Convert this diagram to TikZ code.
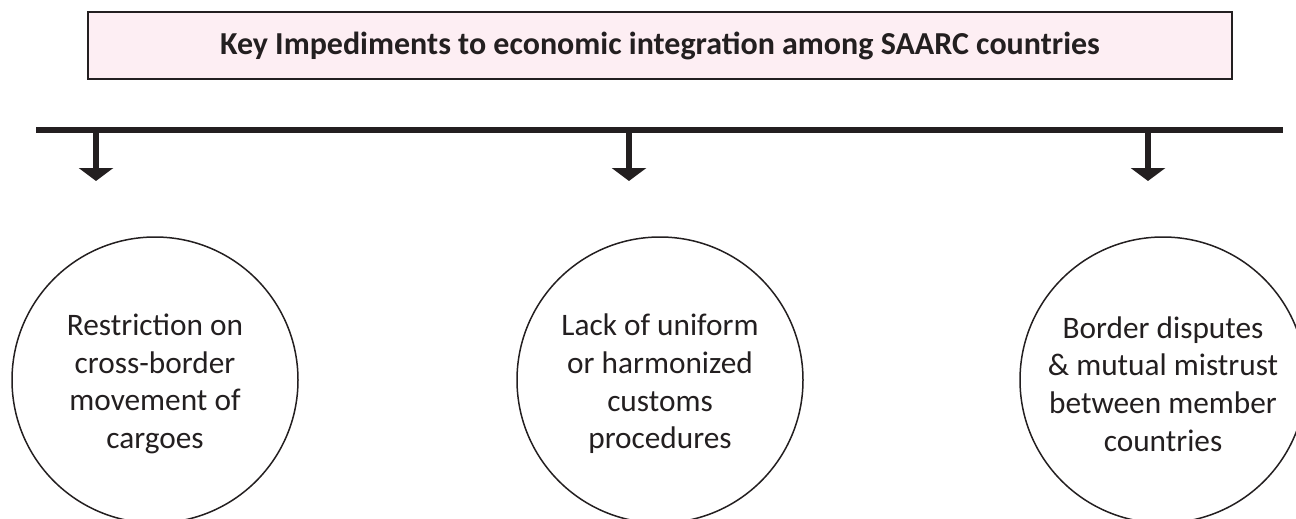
\documentclass[tikz,border=0pt]{standalone}
\usepackage{fontspec}
\setmainfont{Carlito}
\usetikzlibrary{arrows.meta}
\definecolor{ink}{HTML}{231F20}
\definecolor{pinkfill}{HTML}{FDEEF3}
\tikzset{
  titlebox/.style={draw=ink, line width=1.3pt, fill=pinkfill, minimum width=1144pt, minimum height=67pt, inner sep=0pt, text=ink, font=\fontsize{32}{38}\selectfont\bfseries},
  bubble/.style={circle, draw=ink, line width=1.5pt, minimum size=286pt, inner sep=0pt},
  bubbletext/.style={align=center, inner sep=0pt, text=ink, font=\fontsize{31.3}{37.7}\selectfont},
  bar/.style={draw=ink, line width=6pt},
  downarrow/.style={draw=ink, line width=6pt, -{Triangle[width=34pt,length=13pt]}}
}
\begin{document}
\begin{tikzpicture}[x=1pt,y=-1pt]
\useasboundingbox (0,0) rectangle (1296,519);
\node[titlebox] (title) at (660,45.5) {Key Impediments to economic integration among SAARC countries};
\coordinate (barL) at (36,130);
\coordinate (barR) at (1283,130);
\draw[bar] (barL) -- (barR);
\coordinate (a1s) at (96,130);
\coordinate (a1e) at (96,181);
\coordinate (a2s) at (629,130);
\coordinate (a2e) at (629,181);
\coordinate (a3s) at (1148,130);
\coordinate (a3e) at (1148,181);
\draw[downarrow] (a1s) -- (a1e);
\draw[downarrow] (a2s) -- (a2e);
\draw[downarrow] (a3s) -- (a3e);
\node[bubble] (c1) at (155,380) {};
\node[bubble] (c2) at (660,380) {};
\node[bubble] (c3) at (1163,380) {};
\node[bubbletext] (t1) at (155,384) {Restriction on\\cross-border\\movement of\\cargoes};
\node[bubbletext] (t2) at (660,384) {Lack of uniform\\or harmonized\\customs\\procedures};
\node[bubbletext] (t3) at (1163,384) {Border disputes\\\& mutual mistrust\\between member\\countries};
\end{tikzpicture}
\end{document}
